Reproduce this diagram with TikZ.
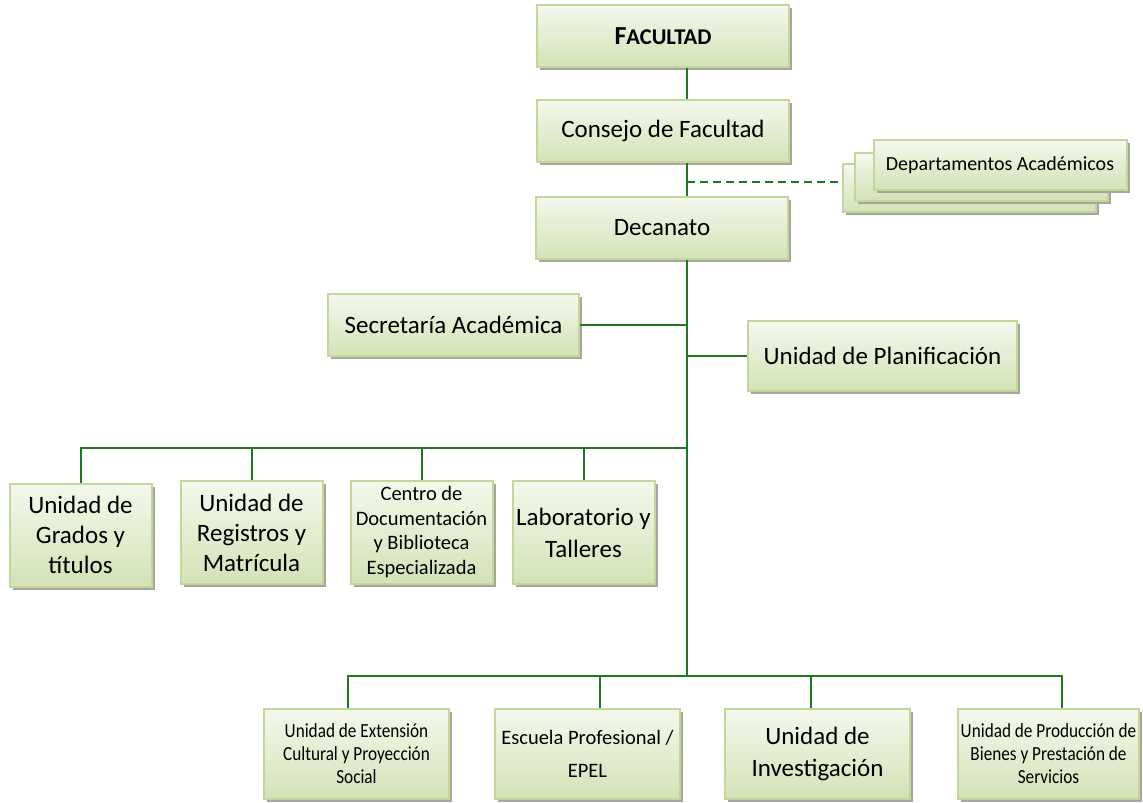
\documentclass[tikz,border=0pt]{standalone}
\usepackage{fontspec}
\setmainfont{Carlito}
\newfontfamily\etroit[FakeStretch=0.86]{Carlito}
\usetikzlibrary{shadows}
\definecolor{vertclair}{HTML}{F4F8EC}
\definecolor{vertfonce}{HTML}{D3E2B6}
\definecolor{bordure}{HTML}{C3D69B}
\definecolor{trait}{HTML}{1F781F}
\definecolor{ombre}{HTML}{A6A69A}
\tikzset{
  boite/.style={rectangle, draw=bordure, line width=2pt, top color=vertclair,
    bottom color=vertfonce, align=center, inner sep=2pt,
    general shadow={shadow xshift=3pt, shadow yshift=-3pt, fill=ombre}},
  lien/.style={draw=trait, line width=2pt},
  tirets/.style={lien, dash pattern=on 8pt off 5pt},
  grand/.style={font=\fontsize{25}{30}\selectfont},
  moyen/.style={font=\fontsize{20.5}{24.5}\selectfont},
  etroite/.style={font=\etroit\fontsize{20}{23}\selectfont}
}
\begin{document}
\begin{tikzpicture}[x=1pt,y=-1pt]
	\useasboundingbox (0,0) rectangle (1143,803);
	% Définition des noeuds
	\node[boite, minimum width=252pt, minimum height=62pt] (fac) at (663,36)
		{\fontsize{26}{30}\selectfont\bfseries F\fontsize{22.5}{30}\selectfont ACULTAD};
	\node[boite, grand, minimum width=252pt, minimum height=62pt] (cons) at (663,131) {Consejo de Facultad};
	\node[boite, grand, minimum width=252pt, minimum height=62pt] (dec) at (662,228) {Decanato};
	
	\node[boite, minimum width=253pt, minimum height=48pt] (deptA) at (969.5,188) {};
	\node[boite, minimum width=253pt, minimum height=48pt] (deptB) at (981.5,177) {};
	\node[boite, minimum width=253pt, minimum height=50pt, font=\fontsize{20}{24}\selectfont] (deptC) at (1000,165) {Departamentos Académicos};
	
	\node[boite, grand, minimum width=251pt, minimum height=62pt] (sec) at (453.5,325) {Secretaría Académica};
	\node[boite, grand, minimum width=269pt, minimum height=70pt] (plan) at (882.5,356) {Unidad de Planificación};
	
	\node[boite, grand, minimum width=142pt, minimum height=103pt] (grad) at (80.5,535) {Unidad de\\Grados y\\títulos};
	\node[boite, grand, minimum width=142pt, minimum height=103pt] (reg) at (251.5,532.5) {Unidad de\\Registros y\\Matrícula};
	\node[boite, moyen, minimum width=142pt, minimum height=103pt] (cen) at (421.5,532) {Centro de\\Documentación\\y Biblioteca\\Especializada};
	\node[boite, font=\fontsize{25}{32}\selectfont, minimum width=142pt, minimum height=103pt] (lab) at (583.5,532.5) {Laboratorio y\\Talleres};
	
	\node[boite, etroite, minimum width=185pt, minimum height=90pt] (ext) at (356.5,754) {Unidad de Extensión\\Cultural y Proyección\\Social};
	\node[boite, font=\fontsize{20.5}{33}\selectfont, minimum width=185pt, minimum height=90pt] (esc) at (587.5,754) {Escuela Profesional /\\EPEL};
	\node[boite, font=\fontsize{25}{32}\selectfont, minimum width=185pt, minimum height=90pt] (inv) at (817.5,754) {Unidad de\\Investigación};
	\node[boite, etroite, minimum width=181pt, minimum height=90pt] (prod) at (1048.5,754) {Unidad de Producción de\\Bienes y Prestación de\\Servicios};
	
	% Définition des liens
	\coordinate (axe) at (687,0);
	\coordinate (pointill) at (687,182);
	\coordinate (bus1) at (80,448);
	\coordinate (dext) at (348,676);
	\coordinate (desc) at (600,676);
	\coordinate (dinv) at (811,676);
	\coordinate (dprod) at (1062,676);
	
	\draw[lien] (fac.south -| axe) -- (cons.north -| axe);
	\draw[lien] (cons.south -| axe) -- (dec.north -| axe);
	\draw[tirets] (pointill) -- (pointill -| deptA.west);
	\draw[lien] (dec.south -| axe) -- (dext -| axe);
	\draw[lien] (sec.east) -- (sec.east -| axe);
	\draw[lien] (plan.west) -- (plan.west -| axe);
	
	\draw[lien] (grad.north) |- (bus1 -| axe);
	\foreach \n in {reg,cen,lab}
		\draw[lien] (\n.north |- bus1) -- (\n.north);
	
	\draw[lien] (dext |- ext.north) -- (dext) -- (dprod) -- (dprod |- prod.north);
	\draw[lien] (desc) -- (desc |- esc.north);
	\draw[lien] (dinv) -- (dinv |- inv.north);
\end{tikzpicture}
\end{document}
